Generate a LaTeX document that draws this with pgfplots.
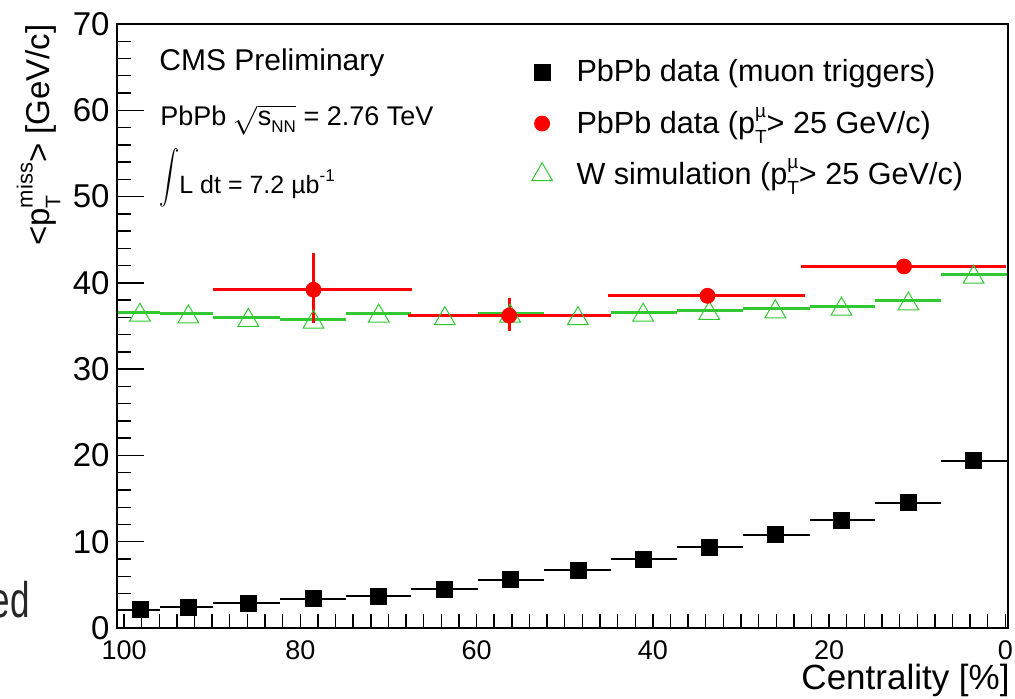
\documentclass[border=0pt]{standalone}
\usepackage{fontspec}
\setmainfont{Liberation Sans}
\usepackage{pgfplots}
\usepackage{pgfplotstable}
\pgfplotsset{compat=1.18}
\definecolor{rootgreen}{RGB}{50,200,50}
\definecolor{rootred}{RGB}{255,0,0}
\newcommand{\fs}[1]{\fontsize{#1}{#1}\selectfont}
\newcommand{\pTmu}{p\rlap{\smash{\raisebox{0.95ex}{\fs{9.5}µ}}}\smash{\raisebox{-0.65ex}{\fs{9.5}T}}}

% black: PbPb data (muon triggers); x err plus = toward higher centrality values
\pgfplotstableread{
x    y     ep   em
98.2 2.1   2.5  2.3
92.7 2.4   3.2  2.8
85.9 2.9   4.0  3.6
78.5 3.4   3.8  3.7
71.1 3.7   3.7  3.7
63.6 4.5   3.8  3.8
56.2 5.6   3.6  3.9
48.5 6.7   3.8  3.7
41.1 8.0   3.7  3.8
33.6 9.4   3.7  3.8
26.1 10.8  3.7  3.9
18.6 12.5  3.6  3.8
11.0 14.5  3.8  3.7
3.6  19.4  3.7  3.8
}\blacktab

\pgfplotstableread{
x    y     ep   em
98.2 36.6  2.5  2.3
92.7 36.4  3.2  2.8
85.9 36.0  4.0  3.6
78.5 35.8  3.8  3.7
71.1 36.5  3.7  3.7
63.6 36.2  3.8  3.8
56.2 36.5  3.6  3.9
48.5 36.2  3.8  3.7
41.1 36.6  3.7  3.8
33.6 36.8  3.7  3.8
26.1 37.0  3.7  3.9
18.6 37.3  3.6  3.8
11.0 37.9  3.8  3.7
3.6  41.0  3.7  3.8
}\greentab

\pgfplotstableread{
x    y     ep    em    yp   ym
78.5 39.2  11.4  11.2  4.3  3.8
56.3 36.2  11.5  11.5  2.0  1.8
33.8 38.5  11.3  11.1  0.4  0.4
11.5 41.9  11.7  11.6  0.4  0.4
}\redtab

\begin{document}
\begin{tikzpicture}[x=1pt,y=1pt]
\path[use as bounding box] (-58.5,-35) rectangle (449,314);
\begin{axis}[
  at={(0,0)}, anchor=south west,
  scale only axis, width=445.5pt, height=302pt,
  x dir=reverse,
  xmin=-0.3, xmax=100.8, ymin=0, ymax=70,
  xtick={0,20,...,100},
  minor xtick={0,2,...,100},
  every major x tick/.style={draw=none},
  ytick={0,10,...,70}, minor ytick={2,4,...,68},
  tick pos=left, tick align=inside,
  major tick length=13.5pt, minor tick length=7.25pt,
  every tick/.style={black, line width=0.7pt},
  axis line style={line width=1.1pt},
  /pgf/number format/assume math mode=true,
  /pgf/number format/1000 sep={},
  yticklabel style={font=\fs{16.5}, inner sep=0pt, xshift=-3.5pt},
  xticklabel style={font=\fs{13.5}, inner sep=0pt, yshift=-6pt},
  error bars/error mark=none,
]
\addplot[only marks, mark=triangle, mark size=6pt,
  mark options={draw=rootgreen, fill=white, line width=0.5pt, yshift=-1.5pt},
  error bars/.cd, x dir=both, x explicit,
  error bar style={rootgreen, line width=1.5pt}]
  table[x=x, y=y, x error plus=ep, x error minus=em] {\greentab};
\addplot[only marks, mark=square*, mark size=4pt,
  mark options={draw=black, fill=black},
  error bars/.cd, x dir=both, x explicit,
  error bar style={black, line width=1pt}]
  table[x=x, y=y, x error plus=ep, x error minus=em] {\blacktab};
\addplot[only marks, mark=*, mark size=3.75pt,
  mark options={draw=rootred, fill=rootred},
  error bars/.cd, x dir=both, x explicit, y dir=both, y explicit,
  error bar style={rootred, line width=1.5pt}]
  table[x=x, y=y, x error plus=ep, x error minus=em,
        y error plus=yp, y error minus=ym] {\redtab};
\end{axis}
\begin{axis}[
  at={(0,0)}, anchor=south west,
  scale only axis, width=445.5pt, height=302pt,
  xmin=0, xmax=1, ymin=0, ymax=1, hide axis,
  legend cell align=left,
  legend style={draw=none, fill=none, at={(0.465,0.948)}, anchor=north west,
    font=\fs{15.3}, row sep=9pt, column sep=10pt, inner sep=0pt,
    nodes={inner sep=2pt}},
]
\addlegendimage{only marks, mark=square*, mark size=4pt, mark options={draw=black, fill=black}}
\addlegendentry{PbPb data (muon triggers)}
\addlegendimage{only marks, mark=*, mark size=3.75pt, mark options={draw=rootred, fill=rootred}}
\addlegendentry{PbPb data (\pTmu> 25 GeV/c)}
\addlegendimage{only marks, mark=triangle, mark size=6pt, mark options={draw=rootgreen, fill=white, line width=0.5pt}}
\addlegendentry{W simulation (\pTmu> 25 GeV/c)}
\end{axis}
% axis titles and texts
\node[anchor=base east, font=\fs{17.5}, inner sep=0pt] at (446.5,-30.5) {Centrality [\%]};
\node[rotate=90, anchor=base east, font=\fs{16.5}, inner sep=0pt] at (-33.5,302)
  {<p\rlap{\smash{\raisebox{-0.6ex}{\fs{10.5}T}}}\smash{\raisebox{1.0ex}{\fs{11}miss}}> [GeV/c]};
\node[anchor=base west, font=\fs{15}, inner sep=0pt] at (21,279) {CMS Preliminary};
\node[anchor=base west, font=\fs{13.5}, inner sep=0pt] at (21.5,251.5)
  {PbPb \ensuremath{\sqrt{\hbox{s\raisebox{-0.55ex}{\fs{8.5}NN}}}} = 2.76 TeV};
\node[anchor=base west, font=\fs{12.5}, inner sep=0pt] at (21,217.5)
  {\scalebox{1}[1.32]{\raisebox{2.75pt}{$\displaystyle\int$}}L dt = 7.2 µb\raisebox{0.9ex}{\fs{8.5}-1}};
\node[anchor=base east, font=\fs{25}, inner sep=0pt, text=black!85] at (-43.5,5.5) {\scalebox{0.7}[1]{ed}};
\end{tikzpicture}
\end{document}
